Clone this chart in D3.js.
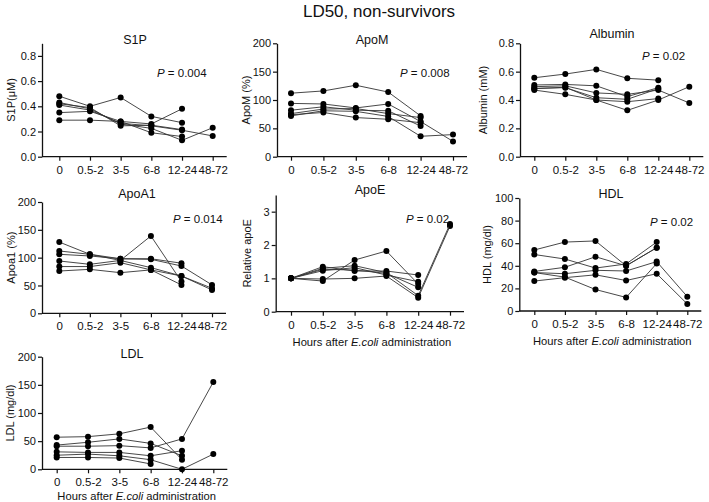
<!DOCTYPE html>
<html><head><meta charset="utf-8">
<script src="https://cdn.jsdelivr.net/npm/d3@7"></script>
<style>
body{margin:0;background:#fff;}
text{font-family:"Liberation Sans",Arial,Helvetica,sans-serif;fill:#111;}
</style></head>
<body><svg id="c" width="709" height="502"></svg>
<script>
const categories = ["0","0.5-2","3-5","6-8","12-24","48-72"];

const s1pData = [
  [0.48,0.40,0.47,0.32,0.27,null],
  [0.29,0.29,0.28,0.26,0.38,null],
  [0.43,0.38,0.26,0.225,0.13,0.23],
  [0.41,0.37,0.265,0.245,0.21,0.165],
  [0.35,0.36,0.28,0.19,0.16,null],
  [0.42,0.39,0.245,0.25,0.215,null]
];
const apoMData = [
  [112,116,126,114,72,null],
  [94,93,86,93,62,27],
  [82,88,82,81,54,null],
  [76,84,85,76,69,null],
  [72,81,80,71,36,39],
  [74,78,69,66,60,null]
];
const albuminData = [
  [0.557,0.583,0.616,0.553,0.54,null],
  [0.506,0.51,0.50,0.424,0.487,null],
  [0.494,0.50,0.45,0.44,0.47,0.379],
  [0.482,0.487,0.416,0.405,0.48,null],
  [0.47,0.44,0.40,0.327,0.40,0.494],
  [0.48,0.49,0.40,0.388,0.41,null]
];
const apoA1Data = [
  [128,106,98,98,90,null],
  [112,106,95,139,57,null],
  [106,103,98,97,85,51],
  [94,88,95,82,67,45],
  [84,84,91,78,67,42],
  [76,79,73,78,51,null]
];
const apoEData = [
  [1,0.92,1.55,1.82,0.83,null],
  [1,0.98,1.0,1.07,0.42,2.57],
  [1,1.35,1.22,1.22,1.10,null],
  [1,1.30,1.38,1.17,0.48,2.63],
  [1,1.23,1.32,1.10,0.90,null],
  [1,1.27,1.25,1.15,0.73,null]
];
const hdlData = [
  [54,61,62,40,56,null],
  [50,46,38,41.6,61,null],
  [35,38.7,48,40,56,null],
  [34,33,36,35.4,43.7,12.7],
  [26.5,29.5,32,27,33,6.2],
  [34,30,19,12,42,null]
];
const ldlData = [
  [57,58,63,75,17,null],
  [43,48,54,46,24,null],
  [41,41,42,38,54,155],
  [31,30,30,24,33,null],
  [25,27,24,17,0,27],
  [21,21,20,9.5,null,null]
];

const panelTitles = ["S1P","ApoM","Albumin","ApoA1","ApoE","HDL","LDL"];
const yLabels = ["S1P(\u03bcM)","ApoM (%)","Albumin (mM)","Apoa1 (%)","Relative apoE","HDL (mg/dl)","LDL (mg/dl)"];
const pValues = ["0.004","0.008","0.02","0.014","0.02","0.02",null];
const yTicks = [
  [0,0.2,0.4,0.6,0.8],[0,50,100,150,200],[0,0.2,0.4,0.6,0.8],
  [0,50,100,150,200],[0,1,2,3],[0,20,40,60,80,100],[0,50,100,150,200]
];
const yMax = [0.9,200,0.8,200,3.5,100,200];
const datasets = [s1pData,apoMData,albuminData,apoA1Data,apoEData,hdlData,ldlData];

// layout (positions only)
const layout = [
  {ax:42, bottom:156.7, x0:59.3, x1:212.7, tx:135, ty:44, px:157, py:77, lx:11},
  {ax:277, bottom:156.7, x0:291, x1:453, tx:372, ty:44, px:400, py:77, lx:246},
  {ax:520, bottom:156.7, x0:534.3, x1:689.3, tx:612, ty:38, px:642, py:60, lx:483},
  {ax:42, bottom:313.3, x0:59.3, x1:212, tx:137, ty:198, px:173, py:223, lx:11},
  {ax:275.7, bottom:311.7, x0:291, x1:450, tx:370, ty:194, px:406, py:223, lx:247, xt:346},
  {ax:519.3, bottom:311, x0:534.3, x1:687.3, tx:611, ty:198, px:650, py:226, lx:487, xt:345},
  {ax:42, bottom:469.3, x0:56.7, x1:213.3, tx:132, ty:358, px:null, py:null, lx:10, xt:500}
];
const tops = [43.3,43.3,43.3,202,195,198,356.7];
const fmt = [d3.format(".1f"),d3.format("d"),d3.format(".1f"),d3.format("d"),d3.format("d"),d3.format("d"),d3.format("d")];

const svg = d3.select("#c");
svg.append("text").attr("x",379).attr("y",17).attr("text-anchor","middle")
  .style("font-size","17px").text("LD50, non-survivors");

datasets.forEach((data,i)=>{
  const L = layout[i];
  const g = svg.append("g");
  const x = d3.scalePoint().domain(categories).range([L.x0,L.x1]);
  const y = d3.scaleLinear().domain([0,yMax[i]]).range([L.bottom,tops[i]]);

  const ya = g.append("g").attr("transform",`translate(${L.ax},0)`)
    .call(d3.axisLeft(y).tickValues(yTicks[i]).tickFormat(fmt[i]).tickSize(4).tickPadding(2).tickSizeOuter(0));
  ya.select(".domain").attr("stroke","#111").attr("stroke-width",1.3);
  ya.selectAll(".tick line").attr("stroke","#111").attr("stroke-width",1.2);
  ya.selectAll(".tick text").style("font-size","11px").attr("fill","#111");

  const xa = g.append("g").attr("transform",`translate(0,${L.bottom})`)
    .call(d3.axisBottom(x).tickSize(4).tickPadding(5).tickSizeOuter(0));
  xa.select(".domain").attr("d",`M${L.ax},0H${L.x1+14}`).attr("stroke","#111").attr("stroke-width",1.3);
  xa.selectAll(".tick line").attr("stroke","#111").attr("stroke-width",1.2);
  xa.selectAll(".tick text").style("font-size","11.5px").attr("fill","#111");

  const line = d3.line().defined(d=>d.v!==null).x(d=>x(d.c)).y(d=>y(d.v));
  data.forEach(row=>{
    const pts = row.map((v,j)=>({c:categories[j],v:v}));
    g.append("path").datum(pts).attr("d",line).attr("fill","none")
      .attr("stroke","#333").attr("stroke-width",0.9);
    g.selectAll(null).data(pts.filter(p=>p.v!==null)).enter().append("circle")
      .attr("cx",p=>x(p.c)).attr("cy",p=>y(p.v)).attr("r",3).attr("fill","#000");
  });

  g.append("text").attr("x",L.tx).attr("y",L.ty).attr("text-anchor","middle")
    .style("font-size","12.5px").text(panelTitles[i]);
  const midY = (L.bottom+tops[i])/2;
  g.append("text").attr("transform",`translate(${L.lx},${midY}) rotate(-90)`)
    .attr("text-anchor","middle").attr("dy","0.35em").style("font-size","11px").text(yLabels[i]);
  if(pValues[i]){
    const t = g.append("text").attr("x",L.px).attr("y",L.py).style("font-size","11.5px");
    t.append("tspan").style("font-style","italic").text("P");
    t.append("tspan").text(" = "+pValues[i]);
  }
  if(L.xt){
    const t = g.append("text").attr("x",(L.ax+L.x1+14)/2+2).attr("y",L.xt)
      .attr("text-anchor","middle").style("font-size","11.2px");
    t.append("tspan").text("Hours after ");
    t.append("tspan").style("font-style","italic").text("E.coli");
    t.append("tspan").text(" administration");
  }
});
</script></body></html>
